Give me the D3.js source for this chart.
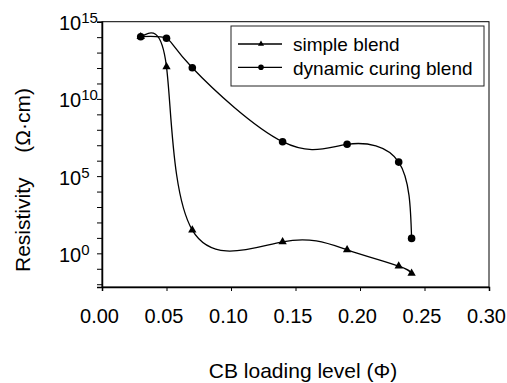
<!DOCTYPE html>
<html>
<head>
<meta charset="utf-8">
<script src="https://cdn.jsdelivr.net/npm/d3@7"></script>
<style>
  body { margin: 0; background: #fff; }
  svg { font-family: "Liberation Sans", Arial, sans-serif; }
</style>
</head>
<body>
<div id="chart"></div>
<script>
const loading = [0.03, 0.05, 0.07, 0.14, 0.19, 0.23, 0.24];
const simpleBlend = [1.07e14, 1.2e12, 32, 5.6, 1.7, 0.15, 0.05];
const dynamicBlend = [1.07e14, 8.5e13, 1.05e12, 1.7e7, 1.15e7, 8.1e5, 9.3];
const xTicks = [0, 0.05, 0.10, 0.15, 0.20, 0.25, 0.30];
const yLabelExps = [15, 10, 5, 0];
const seriesNames = ["simple blend", "dynamic curing blend"];

const width = 507, height = 383;
const plotLeft = 102, plotRight = 489, plotTop = 21.7, plotBottom = 287;

const svg = d3.select("#chart")
    .append("svg")
    .attr("width", width)
    .attr("height", height);

const x = d3.scaleLinear().domain([0, 0.30]).range([plotLeft, plotRight]);
const y = d3.scaleLog().domain([Math.pow(10, -2.18), 1e15]).range([plotBottom, plotTop]);

// frame
svg.append("rect")
    .attr("x", plotLeft).attr("y", plotTop)
    .attr("width", plotRight - plotLeft).attr("height", plotBottom - plotTop)
    .attr("fill", "none").attr("stroke", "#000").attr("stroke-width", 1);

// x axis
svg.append("g")
    .attr("transform", `translate(0,${plotBottom})`)
    .call(d3.axisBottom(x).tickValues(xTicks).tickSize(4).tickFormat(d3.format(".2f")))
    .call(g => g.select(".domain").attr("stroke-width", 1.5))
    .call(g => g.selectAll("text").attr("y", 36).attr("dy", 0).attr("dx", -3)
        .style("font-size", "20px").attr("fill", "#000").attr("font-family", null));

// y axis, one tick per decade
const decades = d3.range(-2, 16).map(e => Math.pow(10, e));
svg.append("g")
    .attr("transform", `translate(${plotLeft},0)`)
    .call(d3.axisLeft(y).tickValues(decades).tickSize(5).tickFormat(""))
    .call(g => g.select(".domain").attr("stroke-width", 1.5));

const yLabels = svg.append("g");
yLabelExps.forEach(e => {
    const t = yLabels.append("text")
        .attr("x", 59)
        .attr("y", y(Math.pow(10, e)) + 8.5)
        .style("font-size", "20px");
    t.append("tspan").text("10");
    t.append("tspan").attr("dy", -7).style("font-size", "15px").text(e);
});

// axis titles
svg.append("text")
    .attr("x", 303).attr("y", 378)
    .attr("text-anchor", "middle")
    .style("font-size", "21px")
    .text("CB loading level (Φ)");

svg.append("text")
    .attr("transform", "translate(30,272) rotate(-90)")
    .attr("text-anchor", "start")
    .style("font-size", "21px")
    .text("Resistivity");

svg.append("text")
    .attr("transform", "translate(30,88) rotate(-90)")
    .attr("text-anchor", "end")
    .style("font-size", "21px")
    .text("(Ω·cm)");

// curves
const line = d3.line()
    .x(d => x(d[0]))
    .y(d => y(d[1]))
    .curve(d3.curveNatural);

const simplePts = loading.map((v, i) => [v, simpleBlend[i]]);
const dynamicPts = loading.map((v, i) => [v, dynamicBlend[i]]);

svg.append("path").datum(simplePts)
    .attr("d", line).attr("fill", "none").attr("stroke", "#000").attr("stroke-width", 1.3);
svg.append("path").datum(dynamicPts)
    .attr("d", line).attr("fill", "none").attr("stroke", "#000").attr("stroke-width", 1.3);

const tri = d3.symbol().type(d3.symbolTriangle).size(30);
svg.selectAll("path.tri").data(simplePts).enter().append("path")
    .attr("class", "tri")
    .attr("d", tri)
    .attr("transform", d => `translate(${x(d[0])},${y(d[1])})`)
    .attr("fill", "#000");

svg.selectAll("circle.dot").data(dynamicPts).enter().append("circle")
    .attr("class", "dot")
    .attr("cx", d => x(d[0])).attr("cy", d => y(d[1]))
    .attr("r", 3.8).attr("fill", "#000");

// legend
const legend = svg.append("g");
legend.append("rect")
    .attr("x", 231).attr("y", 26).attr("width", 253).attr("height", 60)
    .attr("fill", "#fff").attr("stroke", "#222").attr("stroke-width", 1);

seriesNames.forEach((name, i) => {
    const ly = 44 + i * 23.3;
    legend.append("line")
        .attr("x1", 238).attr("x2", 282).attr("y1", ly).attr("y2", ly)
        .attr("stroke", "#000").attr("stroke-width", 1.3);
    if (i === 0) {
        legend.append("path")
            .attr("d", d3.symbol().type(d3.symbolTriangle).size(16)())
            .attr("transform", `translate(261,${ly})`);
    } else {
        legend.append("circle").attr("cx", 261).attr("cy", ly).attr("r", 2.8);
    }
    legend.append("text")
        .attr("x", 293).attr("y", ly + 7.3)
        .style("font-size", "19px")
        .text(name);
});
</script>
</body>
</html>
